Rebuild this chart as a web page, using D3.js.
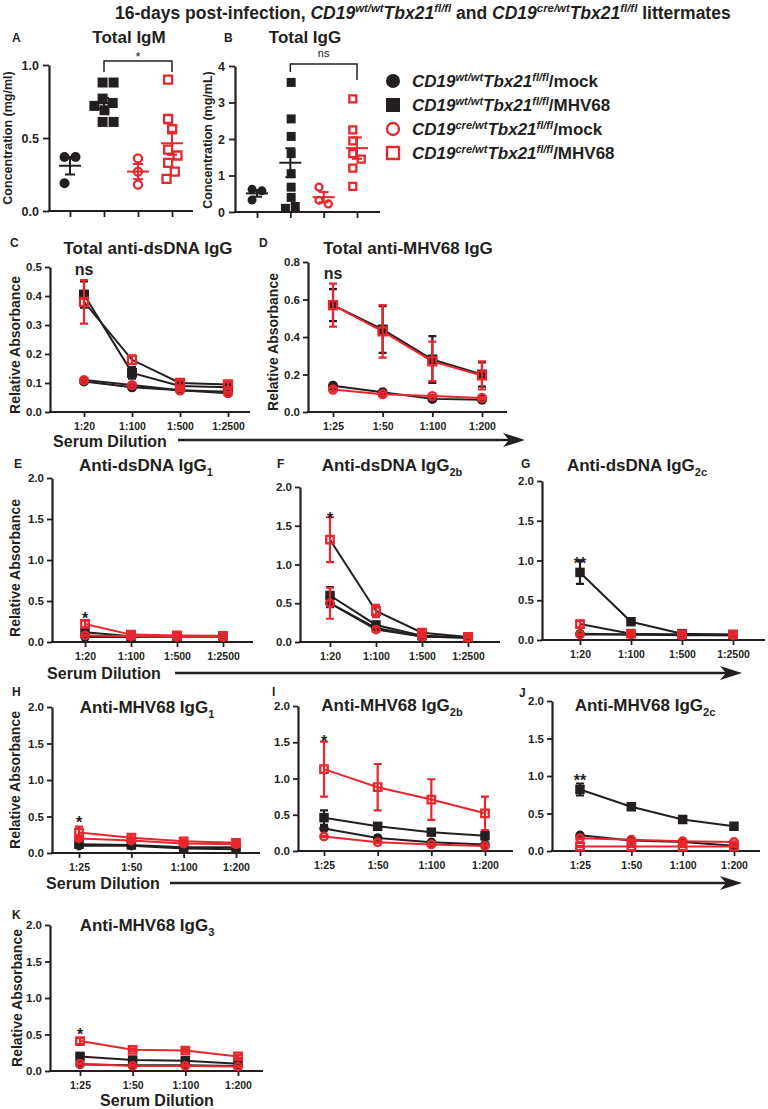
<!DOCTYPE html>
<html>
<head>
<meta charset="utf-8">
<script src="https://cdn.jsdelivr.net/npm/d3@7"></script>
<style>
  body { margin: 0; background: #fff; }
  svg { display: block; }
  text { font-family: "Liberation Sans", Arial, sans-serif; font-weight: bold; fill: #231f20; }
</style>
</head>
<body>
<div id="chart"></div>
<script>
// ---- data ----
var seriesKeys = ["wtMock", "wtMhv", "creMock", "creMhv"];
var dilDs = ["1:20", "1:100", "1:500", "1:2500"];
var dilMhv = ["1:25", "1:50", "1:100", "1:200"];

// A: total IgM (mg/ml), one value per mouse
var igmWtMock = [0.37, 0.37, 0.19];
var igmWtMhv = [0.88, 0.88, 0.77, 0.74, 0.72, 0.69, 0.61, 0.61];
var igmCreMock = [0.36, 0.27, 0.18];
var igmCreMhv = [0.9, 0.63, 0.56, 0.42, 0.38, 0.33, 0.27, 0.22];

// B: total IgG (mg/mL)
var iggWtMock = [0.62, 0.58, 0.33];
var iggWtMhv = [3.55, 2.55, 2.07, 1.6, 1.05, 0.68, 0.4, 0.15, 0.1];
var iggCreMock = [0.68, 0.32, 0.22];
var iggCreMhv = [3.1, 2.25, 1.95, 1.6, 1.45, 1.2, 0.7];

// C: total anti-dsDNA IgG (mean, sem)
var cWtMock = [0.105, 0.085, 0.075, 0.07],  cWtMockSem = [0.005, 0.004, 0.004, 0.004];
var cWtMhv = [0.405, 0.135, 0.09, 0.085],   cWtMhvSem = [0.045, 0.02, 0.01, 0.008];
var cCreMock = [0.11, 0.093, 0.075, 0.065], cCreMockSem = [0.005, 0.005, 0.004, 0.004];
var cCreMhv = [0.38, 0.18, 0.1, 0.095],     cCreMhvSem = [0.075, 0.015, 0.008, 0.008];

// D: total anti-MHV68 IgG
var dWtMock = [0.14, 0.105, 0.07, 0.065],  dWtMockSem = [0.01, 0.008, 0.006, 0.006];
var dWtMhv = [0.57, 0.44, 0.28, 0.2],      dWtMhvSem = [0.085, 0.125, 0.125, 0.065];
var dCreMock = [0.12, 0.095, 0.085, 0.075], dCreMockSem = [0.01, 0.008, 0.006, 0.006];
var dCreMhv = [0.57, 0.43, 0.27, 0.195],   dCreMhvSem = [0.115, 0.14, 0.105, 0.075];

// E: anti-dsDNA IgG1
var eWtMock = [0.06, 0.06, 0.06, 0.06],    eWtMockSem = [0.01, 0.005, 0.005, 0.005];
var eWtMhv = [0.12, 0.07, 0.065, 0.065],   eWtMhvSem = [0.03, 0.01, 0.005, 0.005];
var eCreMock = [0.08, 0.07, 0.06, 0.06],   eCreMockSem = [0.01, 0.005, 0.005, 0.005];
var eCreMhv = [0.22, 0.09, 0.08, 0.075],   eCreMhvSem = [0.04, 0.01, 0.01, 0.01];

// F: anti-dsDNA IgG2b
var fWtMock = [0.5, 0.18, 0.07, 0.055],    fWtMockSem = [0.05, 0.02, 0.01, 0.005];
var fWtMhv = [0.6, 0.22, 0.08, 0.06],      fWtMhvSem = [0.11, 0.03, 0.01, 0.005];
var fCreMock = [0.5, 0.16, 0.07, 0.055],   fCreMockSem = [0.2, 0.03, 0.01, 0.005];
var fCreMhv = [1.32, 0.4, 0.12, 0.065],    fCreMhvSem = [0.29, 0.08, 0.02, 0.01];

// G: anti-dsDNA IgG2c
var gWtMock = [0.08, 0.07, 0.065, 0.06],   gWtMockSem = [0.01, 0.005, 0.005, 0.005];
var gWtMhv = [0.85, 0.23, 0.08, 0.065],    gWtMhvSem = [0.145, 0.02, 0.01, 0.005];
var gCreMock = [0.07, 0.07, 0.06, 0.06],   gCreMockSem = [0.01, 0.005, 0.005, 0.005];
var gCreMhv = [0.2, 0.08, 0.07, 0.07],     gCreMhvSem = [0.04, 0.02, 0.01, 0.005];

// H: anti-MHV68 IgG1
var hWtMock = [0.1, 0.1, 0.06, 0.05],      hWtMockSem = [0.01, 0.01, 0.01, 0.01];
var hWtMhv = [0.12, 0.11, 0.08, 0.08],     hWtMhvSem = [0.02, 0.01, 0.01, 0.01];
var hCreMock = [0.2, 0.17, 0.13, 0.12],    hCreMockSem = [0.02, 0.02, 0.01, 0.01];
var hCreMhv = [0.28, 0.21, 0.16, 0.14],    hCreMhvSem = [0.08, 0.04, 0.02, 0.02];

// I: anti-MHV68 IgG2b
var iWtMock = [0.31, 0.18, 0.12, 0.09],    iWtMockSem = [0.02, 0.01, 0.01, 0.01];
var iWtMhv = [0.46, 0.34, 0.26, 0.21],     iWtMhvSem = [0.1, 0.03, 0.02, 0.02];
var iCreMock = [0.2, 0.12, 0.09, 0.07],    iCreMockSem = [0.01, 0.01, 0.01, 0.01];
var iCreMhv = [1.13, 0.88, 0.71, 0.52],    iCreMhvSem = [0.38, 0.32, 0.28, 0.23];

// J: anti-MHV68 IgG2c
var jWtMock = [0.21, 0.14, 0.12, 0.07],    jWtMockSem = [0.01, 0.01, 0.01, 0.01];
var jWtMhv = [0.82, 0.59, 0.42, 0.33],     jWtMhvSem = [0.08, 0.03, 0.03, 0.02];
var jCreMock = [0.17, 0.15, 0.13, 0.12],   jCreMockSem = [0.01, 0.01, 0.01, 0.01];
var jCreMhv = [0.06, 0.06, 0.06, 0.06],    jCreMhvSem = [0.01, 0.01, 0.01, 0.01];

// K: anti-MHV68 IgG3
var kWtMock = [0.09, 0.08, 0.08, 0.07],    kWtMockSem = [0.01, 0.01, 0.01, 0.01];
var kWtMhv = [0.2, 0.15, 0.14, 0.1],       kWtMhvSem = [0.03, 0.02, 0.02, 0.01];
var kCreMock = [0.1, 0.07, 0.07, 0.06],    kCreMockSem = [0.01, 0.01, 0.01, 0.01];
var kCreMhv = [0.41, 0.29, 0.28, 0.2],     kCreMhvSem = [0.04, 0.02, 0.02, 0.02];

// ---- drawing ----
var BLACK = "#231f20", RED = "#e8262d";
var styles = {
  wtMock:  {shape: "circle", color: BLACK, open: false},
  wtMhv:   {shape: "square", color: BLACK, open: false},
  creMock: {shape: "circle", color: RED, open: true},
  creMhv:  {shape: "square", color: RED, open: true}
};

var svg = d3.select("#chart").append("svg").attr("width", 768).attr("height", 1109);

function richText(g, x, y, parts, size, anchor) {
  var t = g.append("text").attr("x", x).attr("y", y)
           .attr("font-size", size).attr("text-anchor", anchor || "start");
  var shift = 0;
  parts.forEach(function(p) {
    var s = t.append("tspan").text(p[0]);
    if (p[1]) s.attr("font-style", "italic");
    var target = p[2] == "sup" ? -size * 0.38 : p[2] == "sub" ? size * 0.28 : 0;
    if (target != shift) { s.attr("dy", target - shift); shift = target; }
    if (p[2]) s.attr("font-size", size * 0.65);
  });
  return t;
}

function marker(g, key, x, y, sz) {
  var st = styles[key];
  var s = st.open ? sz - 2 : sz;
  var area = st.shape == "circle" ? Math.PI * s * s / 4 : s * s;
  g.append("path")
   .attr("transform", "translate(" + x + "," + y + ")")
   .attr("d", d3.symbol().type(st.shape == "circle" ? d3.symbolCircle : d3.symbolSquare).size(area)())
   .attr("fill", st.open ? "none" : st.color)
   .attr("stroke", st.color)
   .attr("stroke-width", st.open ? 2.3 : 0);
}

function styleAxis(sel, fs) {
  sel.select(".domain").attr("stroke", BLACK).attr("stroke-width", 2.2);
  sel.selectAll(".tick line").attr("stroke", BLACK).attr("stroke-width", 1.8);
  sel.selectAll(".tick text").attr("font-size", fs).attr("fill", BLACK)
     .style("font-family", "'Liberation Sans', Arial, sans-serif").style("font-weight", "bold");
}

function yLabel(g, text, xc, yc, fs) {
  g.append("text").attr("transform", "translate(" + (xc + fs * 0.36) + "," + yc + ") rotate(-90)")
   .attr("text-anchor", "middle").attr("font-size", fs).text(text);
}

// title
richText(svg, 115, 19, [
  ["16-days post-infection, ", 0], ["CD19", 1], ["wt/wt", 1, "sup"], ["Tbx21", 1], ["fl/fl", 1, "sup"],
  [" and ", 0], ["CD19", 1], ["cre/wt", 1, "sup"], ["Tbx21", 1], ["fl/fl", 1, "sup"], [" littermates", 0]
], 17.5);

// ---- scatter panels A and B ----
function swarm(vals, y, s) {
  var placed = [];
  var pts = vals.map(function(v) {
    var py = y(v), cands = [0];
    placed.forEach(function(p) {
      var dy = Math.abs(p.y - py);
      if (dy < s) { var dx = Math.sqrt(s * s - dy * dy); cands.push(p.x + dx, p.x - dx); }
    });
    cands.sort(function(a, b) { return Math.abs(a) - Math.abs(b); });
    var best = cands.find(function(c) {
      return placed.every(function(p) { return Math.hypot(p.x - c, p.y - py) >= s - 0.01; });
    });
    var pt = {x: best, y: py};
    placed.push(pt);
    return pt;
  });
  var mid = (d3.min(pts, function(p) { return p.x; }) + d3.max(pts, function(p) { return p.x; })) / 2;
  pts.forEach(function(p) { p.x -= mid; });
  return pts;
}

function drawScatter(cfg) {
  var g = svg.append("g");
  var x = d3.scalePoint().domain(seriesKeys).range([cfg.x0, cfg.x1]);
  var y = d3.scaleLinear().domain([0, cfg.ymax]).range([cfg.yb, cfg.yt]);

  var ya = g.append("g").attr("transform", "translate(" + cfg.ax + ",0)")
    .call(d3.axisLeft(y).tickValues(cfg.yticks).tickFormat(d3.format(cfg.fmt)).tickSize(6).tickSizeOuter(0).tickPadding(4));
  styleAxis(ya, 12.5);
  var xa = g.append("g").attr("transform", "translate(0," + cfg.yb + ")")
    .call(d3.axisBottom(x).tickSize(6).tickFormat(""));
  xa.select(".domain").remove();
  styleAxis(xa, 12);
  g.append("line").attr("x1", cfg.ax - 1).attr("x2", cfg.xe).attr("y1", cfg.yb).attr("y2", cfg.yb)
   .attr("stroke", BLACK).attr("stroke-width", 2.2);

  seriesKeys.forEach(function(k) {
    var vals = cfg.data[k], col = styles[k].color, cx = x(k);
    var m = d3.mean(vals), sem = d3.deviation(vals) / Math.sqrt(vals.length);
    swarm(vals, y, cfg.size + 1).forEach(function(p) { marker(g, k, cx + p.x, p.y, cfg.size); });
    g.append("line").attr("x1", cx - 11).attr("x2", cx + 11).attr("y1", y(m)).attr("y2", y(m))
     .attr("stroke", col).attr("stroke-width", 2);
    g.append("line").attr("x1", cx).attr("x2", cx).attr("y1", y(m - sem)).attr("y2", y(m + sem))
     .attr("stroke", col).attr("stroke-width", 2);
    [m - sem, m + sem].forEach(function(v) {
      g.append("line").attr("x1", cx - 5).attr("x2", cx + 5).attr("y1", y(v)).attr("y2", y(v))
       .attr("stroke", col).attr("stroke-width", 2);
    });
  });

  // significance bracket between the two MHV68 groups
  var b = cfg.bracket, xa1 = x("wtMhv"), xa2 = x("creMhv");
  g.append("path").attr("d", "M" + xa1 + "," + b.yl + "V" + b.y + "H" + xa2 + "V" + b.yr)
   .attr("fill", "none").attr("stroke", BLACK).attr("stroke-width", 1.5);
  g.append("text").attr("x", (xa1 + xa2) / 2).attr("y", b.ty).attr("text-anchor", "middle")
   .attr("font-size", b.fs).style("font-weight", "normal").text(b.text);

  g.append("text").attr("x", cfg.lx).attr("y", cfg.ly).attr("font-size", 12).text(cfg.label);
  g.append("text").attr("x", cfg.tx).attr("y", cfg.ty).attr("text-anchor", "middle").attr("font-size", 17).text(cfg.title);
  yLabel(g, cfg.ylab, cfg.ylx, cfg.yly, 12.5);
}

drawScatter({
  label: "A", lx: 12, ly: 42, title: "Total IgM", tx: 129, ty: 43,
  ylab: "Concentration (mg/ml)", ylx: 7, yly: 138,
  ax: 49, x0: 70, x1: 172, xe: 193, yb: 211, yt: 65, ymax: 1.0, yticks: [0, 0.5, 1.0], fmt: ".1f", size: 10,
  data: {wtMock: igmWtMock, wtMhv: igmWtMhv, creMock: igmCreMock, creMhv: igmCreMhv},
  bracket: {y: 61, yl: 72, yr: 72, ty: 61, fs: 13, text: "*"}
});
drawScatter({
  label: "B", lx: 224, ly: 42, title: "Total IgG", tx: 305, ty: 43,
  ylab: "Concentration (mg/mL)", ylx: 207, yly: 140,
  ax: 235, x0: 257, x1: 357, xe: 380, yb: 212, yt: 66, ymax: 4, yticks: [0, 1, 2, 3, 4], fmt: "d", size: 9,
  data: {wtMock: iggWtMock, wtMhv: iggWtMhv, creMock: iggCreMock, creMhv: iggCreMhv},
  bracket: {y: 64, yl: 72, yr: 80, ty: 57, fs: 11, text: "ns"}
});

// legend
var legendLabels = [
  [["CD19", 1], ["wt/wt", 1, "sup"], ["Tbx21", 1], ["fl/fl", 1, "sup"], ["/mock", 0]],
  [["CD19", 1], ["wt/wt", 1, "sup"], ["Tbx21", 1], ["fl/fl", 1, "sup"], ["/MHV68", 0]],
  [["CD19", 1], ["cre/wt", 1, "sup"], ["Tbx21", 1], ["fl/fl", 1, "sup"], ["/mock", 0]],
  [["CD19", 1], ["cre/wt", 1, "sup"], ["Tbx21", 1], ["fl/fl", 1, "sup"], ["/MHV68", 0]]
];
var legendY = d3.scalePoint().domain(seriesKeys).range([81, 153]);
seriesKeys.forEach(function(k, i) {
  marker(svg, k, 393, legendY(k), 14);
  richText(svg, 412, legendY(k) + 6, legendLabels[i], 17);
});

// ---- dilution panels ----
function drawLines(cfg) {
  var g = svg.append("g");
  var x = d3.scalePoint().domain(cfg.cats).range([cfg.x0, cfg.x1]);
  var y = d3.scaleLinear().domain([0, cfg.ymax]).range([cfg.yb, cfg.yt]);

  var ya = g.append("g").attr("transform", "translate(" + cfg.ax + ",0)")
    .call(d3.axisLeft(y).tickValues(d3.range(0, cfg.ymax + 1e-9, cfg.step)).tickFormat(d3.format(".1f"))
      .tickSize(5).tickSizeOuter(0).tickPadding(3));
  styleAxis(ya, 11.5);
  var xa = g.append("g").attr("transform", "translate(0," + cfg.yb + ")")
    .call(d3.axisBottom(x).tickSize(5).tickPadding(6));
  xa.select(".domain").remove();
  styleAxis(xa, 10.5);
  g.append("line").attr("x1", cfg.ax - 1).attr("x2", cfg.xe).attr("y1", cfg.yb).attr("y2", cfg.yb)
   .attr("stroke", BLACK).attr("stroke-width", 2.2);

  var line = d3.line().x(function(d, i) { return x(cfg.cats[i]); }).y(function(d) { return y(d); });
  seriesKeys.forEach(function(k) {
    g.append("path").attr("d", line(cfg.mean[k])).attr("fill", "none")
     .attr("stroke", cfg.blackLines ? BLACK : styles[k].color).attr("stroke-width", 2);
  });
  seriesKeys.forEach(function(k) {
    var col = styles[k].color;
    cfg.mean[k].forEach(function(v, i) {
      var cx = x(cfg.cats[i]), e = cfg.sem[k][i];
      g.append("path").attr("d", "M" + (cx - 4) + "," + y(v + e) + "H" + (cx + 4) + "M" + cx + "," + y(v + e) +
          "V" + y(v - e) + "M" + (cx - 4) + "," + y(v - e) + "H" + (cx + 4))
       .attr("fill", "none").attr("stroke", col).attr("stroke-width", 2.2);
      marker(g, k, cx, y(v), cfg.size);
    });
  });

  g.append("text").attr("x", cfg.lx).attr("y", cfg.ly).attr("font-size", 12).text(cfg.label);
  richText(g, cfg.tx, cfg.ty, cfg.title, 17, "middle");
  g.append("text").attr("x", x(cfg.cats[0])).attr("y", y(cfg.sigV) + cfg.sigFs * 0.5)
   .attr("text-anchor", "middle").attr("font-size", cfg.sigFs).text(cfg.sig);
  if (cfg.ylab) yLabel(g, "Relative Absorbance", cfg.ylx, cfg.yly, 14);
}

function set(a, b, c, d) { return {wtMock: a, wtMhv: b, creMock: c, creMhv: d}; }

drawLines({label: "C", lx: 10, ly: 247, title: [["Total anti-dsDNA IgG"]], tx: 148, ty: 254,
  cats: dilDs, ax: 50, x0: 84, x1: 228, xe: 250, yb: 412, yt: 267, ymax: 0.5, step: 0.1, size: 10, blackLines: true,
  mean: set(cWtMock, cWtMhv, cCreMock, cCreMhv), sem: set(cWtMockSem, cWtMhvSem, cCreMockSem, cCreMhvSem),
  sig: "ns", sigV: 0.5, sigFs: 16, ylab: true, ylx: 15, yly: 345});
drawLines({label: "D", lx: 259, ly: 247, title: [["Total anti-MHV68 IgG"]], tx: 408, ty: 254,
  cats: dilMhv, ax: 308, x0: 333, x1: 482, xe: 507, yb: 412, yt: 262, ymax: 0.8, step: 0.2, size: 10, blackLines: false,
  mean: set(dWtMock, dWtMhv, dCreMock, dCreMhv), sem: set(dWtMockSem, dWtMhvSem, dCreMockSem, dCreMhvSem),
  sig: "ns", sigV: 0.75, sigFs: 16, ylab: true, ylx: 273, yly: 342});
drawLines({label: "E", lx: 14, ly: 468, title: [["Anti-dsDNA IgG"], ["1", 0, "sub"]], tx: 146, ty: 471,
  cats: dilDs, ax: 52, x0: 85, x1: 223, xe: 253, yb: 642, yt: 478, ymax: 2, step: 0.5, size: 9.5, blackLines: false,
  mean: set(eWtMock, eWtMhv, eCreMock, eCreMhv), sem: set(eWtMockSem, eWtMhvSem, eCreMockSem, eCreMhvSem),
  sig: "*", sigV: 0.32, sigFs: 16, ylab: true, ylx: 15, yly: 568});
drawLines({label: "F", lx: 277, ly: 468, title: [["Anti-dsDNA IgG"], ["2b", 0, "sub"]], tx: 392, ty: 471,
  cats: dilDs, ax: 300, x0: 330, x1: 468, xe: 500, yb: 642, yt: 487, ymax: 2, step: 0.5, size: 9.5, blackLines: true,
  mean: set(fWtMock, fWtMhv, fCreMock, fCreMhv), sem: set(fWtMockSem, fWtMhvSem, fCreMockSem, fCreMhvSem),
  sig: "*", sigV: 1.62, sigFs: 16, ylab: false});
drawLines({label: "G", lx: 521, ly: 468, title: [["Anti-dsDNA IgG"], ["2c", 0, "sub"]], tx: 637, ty: 471,
  cats: dilDs, ax: 542, x0: 580, x1: 733, xe: 765, yb: 640, yt: 481, ymax: 2, step: 0.5, size: 9.5, blackLines: true,
  mean: set(gWtMock, gWtMhv, gCreMock, gCreMhv), sem: set(gWtMockSem, gWtMhvSem, gCreMockSem, gCreMhvSem),
  sig: "**", sigV: 1.0, sigFs: 16, ylab: false});
drawLines({label: "H", lx: 12, ly: 696, title: [["Anti-MHV68 IgG"], ["1", 0, "sub"]], tx: 147, ty: 713,
  cats: dilMhv, ax: 52, x0: 79, x1: 236, xe: 260, yb: 853, yt: 707, ymax: 2, step: 0.5, size: 9.5, blackLines: false,
  mean: set(hWtMock, hWtMhv, hCreMock, hCreMhv), sem: set(hWtMockSem, hWtMhvSem, hCreMockSem, hCreMhvSem),
  sig: "*", sigV: 0.45, sigFs: 16, ylab: true, ylx: 15, yly: 780});
drawLines({label: "I", lx: 272, ly: 696, title: [["Anti-MHV68 IgG"], ["2b", 0, "sub"]], tx: 392, ty: 711,
  cats: dilMhv, ax: 298, x0: 324, x1: 485, xe: 513, yb: 851, yt: 706, ymax: 2, step: 0.5, size: 9.5, blackLines: false,
  mean: set(iWtMock, iWtMhv, iCreMock, iCreMhv), sem: set(iWtMockSem, iWtMhvSem, iCreMockSem, iCreMhvSem),
  sig: "*", sigV: 1.55, sigFs: 16, ylab: false});
drawLines({label: "J", lx: 519, ly: 697, title: [["Anti-MHV68 IgG"], ["2c", 0, "sub"]], tx: 645, ty: 711,
  cats: dilMhv, ax: 552, x0: 580, x1: 734, xe: 760, yb: 851, yt: 701, ymax: 2, step: 0.5, size: 9.5, blackLines: false,
  mean: set(jWtMock, jWtMhv, jCreMock, jCreMhv), sem: set(jWtMockSem, jWtMhvSem, jCreMockSem, jCreMhvSem),
  sig: "**", sigV: 0.97, sigFs: 16, ylab: false});
drawLines({label: "K", lx: 12, ly: 919, title: [["Anti-MHV68 IgG"], ["3", 0, "sub"]], tx: 147, ty: 931,
  cats: dilMhv, ax: 50, x0: 80, x1: 238, xe: 263, yb: 1071, yt: 925, ymax: 2, step: 0.5, size: 9.5, blackLines: false,
  mean: set(kWtMock, kWtMhv, kCreMock, kCreMhv), sem: set(kWtMockSem, kWtMhvSem, kCreMockSem, kCreMhvSem),
  sig: "*", sigV: 0.53, sigFs: 16, ylab: true, ylx: 17, yly: 998});

// serum dilution labels and arrows
var dilutionLabels = [[110, 447], [104, 679], [103, 889], [157, 1106]];
dilutionLabels.forEach(function(p) {
  svg.append("text").attr("x", p[0]).attr("y", p[1]).attr("text-anchor", "middle").attr("font-size", 16).text("Serum Dilution");
});
var arrows = [[178, 525, 440], [175, 742, 673], [170, 742, 883]];
arrows.forEach(function(a) {
  svg.append("line").attr("x1", a[0]).attr("x2", a[1] - 12).attr("y1", a[2]).attr("y2", a[2])
     .attr("stroke", BLACK).attr("stroke-width", 2.6);
  svg.append("path").attr("d", "M" + a[1] + "," + a[2] + "L" + (a[1] - 22) + "," + (a[2] - 7) +
      "L" + (a[1] - 16) + "," + a[2] + "L" + (a[1] - 22) + "," + (a[2] + 7) + "Z").attr("fill", BLACK);
});
</script>
</body>
</html>
